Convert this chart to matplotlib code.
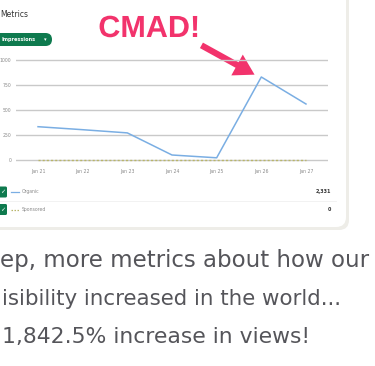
import matplotlib.pyplot as plt
import matplotlib.patheffects as pe
from matplotlib.patches import FancyBboxPatch, FancyArrowPatch

# data
days = ['Jan 21', 'Jan 22', 'Jan 23', 'Jan 24', 'Jan 25', 'Jan 26', 'Jan 27']
organic = [333, 303, 271, 50, 22, 830, 560]
sponsored = [0, 0, 0, 0, 0, 0, 0]
y_ticks = [0, 250, 500, 750, 1000]
y_tick_labels = ['0', '250', '500', '750', '1000']
legend_names = ['Organic', 'Sponsored']
legend_totals = ['2,331', '0']
caption = ['ep, more metrics about how our',
           'isibility increased in the world...',
           '1,842.5% increase in views!']

W, H = 375, 366
BLUE = '#7aaee3'
OLIVE = '#b8b56a'
GREEN = '#0e7a4e'
PINK = '#f2336c'
GREY_TXT = '#55555a'

fig = plt.figure(figsize=(W / 100, H / 100), dpi=100)
fig.patch.set_facecolor('white')

# overlay in pixel coords
bg = fig.add_axes([0, 0, 1, 1])
bg.set_xlim(0, W)
bg.set_ylim(H, 0)
bg.axis('off')

# card shadow + card
bg.add_patch(FancyBboxPatch((-20, -20), 369, 250, boxstyle='round,pad=0,rounding_size=10',
                            fc='#eeede8', ec='none', zorder=1))
bg.add_patch(FancyBboxPatch((-20, -20), 366, 247, boxstyle='round,pad=0,rounding_size=10',
                            fc='white', ec='none', zorder=2))

def px_axes(left, top, right, bottom):
    return fig.add_axes([left / W, 1 - bottom / H, (right - left) / W, (bottom - top) / H])

# chart area: value v -> y = 160 - 0.1 v ; day i -> x = 38 + 44.67 i
ax = px_axes(15.7, 55, 328.3, 165)
ax.set_zorder(3)
ax.patch.set_visible(False)
ax.set_xlim(-0.5, 6.5)
ax.set_ylim(-50, 1050)
for v in y_ticks:
    ax.axhline(v, color='#c9c9c9', lw=1.0, zorder=1)
x = list(range(len(days)))
ax.plot(x, sponsored, color=OLIVE, lw=1.0, ls=(0, (1.5, 1.5)), zorder=2)
ax.plot(x, organic, color=BLUE, lw=1.1, zorder=3)
ax.set_yticks(y_ticks)
ax.set_yticklabels(y_tick_labels)
ax.set_xticks(x)
ax.set_xticklabels(days)
ax.tick_params(length=0, labelsize=3.3, labelcolor='#8a8a8a')
ax.tick_params(axis='y', pad=3)
ax.tick_params(axis='x', pad=3)
for s in ax.spines.values():
    s.set_visible(False)

# header
bg.text(0, 17, 'Metrics', fontsize=5.5, color='#333333', va='baseline', ha='left', zorder=5)
bg.add_patch(FancyBboxPatch((-8, 33), 60, 13, boxstyle='round,pad=0,rounding_size=6.5',
                            fc=GREEN, ec='none', zorder=5))
bg.text(2, 39.8, 'Impressions', fontsize=3.6, color='white', fontweight='bold',
        va='center', ha='left', zorder=6)
bg.text(45, 39.8, '▾', fontsize=3.8, color='white', va='center', ha='center', zorder=6)

# annotation
bg.text(149, 37, 'CMAD!', fontsize=22, color=PINK, fontweight='bold',
        family='Liberation Sans', ha='center', va='baseline', zorder=7,
        path_effects=[pe.withStroke(linewidth=3, foreground='white')])
bg.add_patch(FancyArrowPatch((199, 44), (257, 76),
                             arrowstyle='simple,head_width=1.9,head_length=1.6,tail_width=0.5',
                             mutation_scale=9, fc=PINK, ec=PINK, lw=0, zorder=7))

# legend rows
for i, (name, tot) in enumerate(zip(legend_names, legend_totals)):
    yc = 192 + i * 17.5
    bg.add_patch(FancyBboxPatch((-4, yc - 5.5), 11, 11, boxstyle='round,pad=0,rounding_size=1.5',
                                fc=GREEN, ec='none', zorder=5))
    bg.text(2.5, yc, '✓', fontsize=4.5, color='white', ha='center', va='center', zorder=6)
    if i == 0:
        bg.plot([11, 18.5], [yc, yc], color=BLUE, lw=0.9, zorder=5)
    else:
        bg.plot([11, 18.5], [yc, yc], color=OLIVE, lw=0.9, ls=(0, (1.2, 1.2)), zorder=5)
    bg.text(22, yc, name, fontsize=3.3, color='#8a8a8a', ha='left', va='center', zorder=5)
    bg.text(331, yc, tot, fontsize=3.5, color='#333333', fontweight='bold',
            ha='right', va='center', zorder=5)
bg.plot([0, 336], [200.5, 200.5], color='#f0f0f0', lw=0.6, zorder=4)

# caption below, fitted to the widths seen in the screenshot
baselines = [267, 305, 343]
lefts = [0, 2, 2]
rights = [368, 343, 310]
renderer = fig.canvas.get_renderer()
for txt, yb, xl, xr in zip(caption, baselines, lefts, rights):
    t = bg.text(xl, yb, txt, fontsize=15, color=GREY_TXT, family='DejaVu Sans',
                ha='left', va='baseline', zorder=5)
    w = t.get_window_extent(renderer).width
    t.set_fontsize(15 * (xr - xl) / w)

fig.savefig('out.png', dpi=100)
